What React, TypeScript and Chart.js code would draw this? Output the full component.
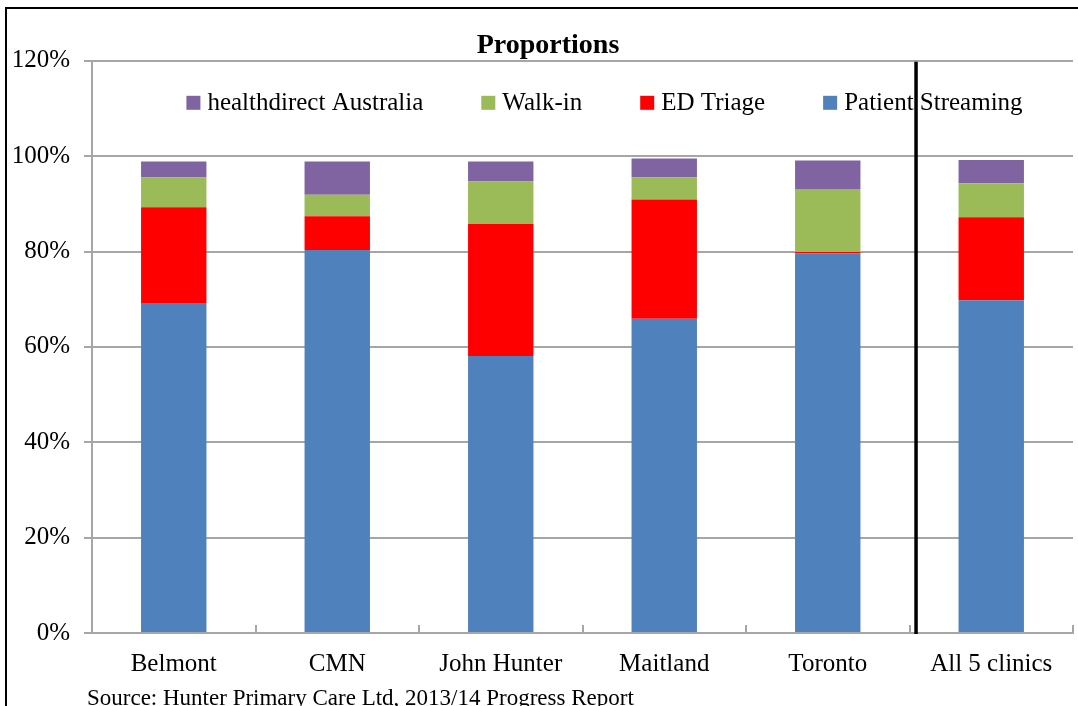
import React, { useEffect, useRef } from 'react';
import { Chart, registerables } from 'chart.js';

Chart.register(...registerables);

const CATEGORIES = ['Belmont', 'CMN', 'John Hunter', 'Maitland', 'Toronto', 'All 5 clinics'];
const PATIENT_STREAMING = [69.2, 80.3, 58.1, 65.9, 79.6, 69.8];
const ED_TRIAGE = [20.1, 7.1, 27.7, 25.0, 0.3, 17.4];
const WALK_IN = [6.2, 4.5, 8.9, 4.6, 13.2, 7.1];
const HEALTHDIRECT = [3.4, 7.0, 4.2, 4.0, 6.0, 4.9];
const SERIES_NAMES = ['Patient Streaming', 'ED Triage', 'Walk-in', 'healthdirect Australia'];
const Y_MIN = 0;
const Y_MAX = 120;
const Y_STEP = 20;
const SEPARATOR_AT = 4.54;
const TITLE = 'Proportions';
const SOURCE = 'Source: Hunter Primary Care Ltd, 2013/14 Progress Report';

const COLORS = ['#4F81BD', '#FF0000', '#9BBB59', '#8064A2'];
const GRID = '#a6a6a6';
const FONT = '"Liberation Serif", "Times New Roman", serif';

const decorPlugin = {
  id: 'decor',
  afterDraw(chart: any) {
    const { ctx, chartArea: a, scales } = chart;
    const x = scales.x;
    ctx.save();
    // inside tick marks on the category axis
    const n = chart.data.labels.length;
    ctx.strokeStyle = GRID;
    ctx.lineWidth = 2;
    for (let i = 0; i <= n; i++) {
      const px = Math.round(x.getPixelForValue(i - 0.5));
      ctx.beginPath();
      ctx.moveTo(px, a.bottom);
      ctx.lineTo(px, a.bottom - 8);
      ctx.stroke();
    }
    // legend inside plot area
    ctx.font = '25px ' + FONT;
    const items = [...chart.data.datasets].reverse();
    const box = 14;
    const gapText = 7;
    const gapItem = 58;
    const widths = items.map((d: any) => box + gapText + ctx.measureText(d.label).width);
    const total = widths.reduce((s: number, w: number) => s + w, 0) + gapItem * (items.length - 1);
    let cx = (a.left + a.right) / 2 + 22 - total / 2;
    const cy = a.top + 42;
    items.forEach((d: any, i: number) => {
      ctx.fillStyle = d.backgroundColor;
      ctx.fillRect(cx, cy - 7, box, box);
      ctx.fillStyle = '#000';
      ctx.textBaseline = 'middle';
      ctx.textAlign = 'left';
      ctx.fillText(d.label, cx + box + gapText, cy + 1);
      cx += widths[i] + gapItem;
    });
    // separator line
    const sx = x.getPixelForValue(SEPARATOR_AT);
    ctx.strokeStyle = '#000';
    ctx.lineWidth = 3.5;
    ctx.beginPath();
    ctx.moveTo(sx, a.top + 1);
    ctx.lineTo(sx, a.bottom + 1);
    ctx.stroke();
    ctx.restore();
  },
};

export default function App() {
  const ref = useRef<HTMLCanvasElement | null>(null);
  useEffect(() => {
    if (!ref.current) return;
    const series = [PATIENT_STREAMING, ED_TRIAGE, WALK_IN, HEALTHDIRECT];
    const chart = new Chart(ref.current, {
      type: 'bar',
      data: {
        labels: CATEGORIES,
        datasets: series.map((data, i) => ({
          label: SERIES_NAMES[i],
          data,
          backgroundColor: COLORS[i],
          borderWidth: 0,
          barPercentage: 0.4,
          categoryPercentage: 1,
          yAxisID: 'y',
        })),
      },
      options: {
        responsive: false,
        animation: false,
        devicePixelRatio: 1,
        layout: { padding: { left: 0, right: 0, top: 0, bottom: 19 } },
        plugins: {
          legend: { display: false },
          tooltip: { enabled: false },
          title: {
            display: true,
            text: TITLE,
            color: '#000',
            font: { family: FONT, size: 28, weight: 'bold', lineHeight: 1.1 },
            padding: { top: 30, bottom: 0 },
          },
        },
        scales: {
          x: {
            stacked: true,
            offset: true,
            grid: { display: false },
            border: { display: true, color: GRID, width: 2 },
            ticks: { color: '#000', font: { family: FONT, size: 25 }, padding: 8, maxRotation: 0 },
          },
          y: {
            stacked: true,
            min: Y_MIN,
            max: Y_MAX,
            afterFit: (scale: any) => {
              scale.width = 92;
            },
            grid: { color: GRID, lineWidth: 2, tickLength: 8, drawTicks: true },
            border: { display: true, color: GRID, width: 2 },
            ticks: {
              stepSize: Y_STEP,
              color: '#000',
              padding: 14,
              font: { family: FONT, size: 25 },
              callback: (v: any) => v + '%',
            },
          },
          yRight: {
            position: 'right',
            display: true,
            afterFit: (scale: any) => {
              scale.width = 23;
            },
            grid: { display: false, drawTicks: false },
            border: { display: false },
            ticks: { display: false },
          },
        },
      },
      plugins: [decorPlugin],
    });
    return () => chart.destroy();
  }, []);

  return (
    <div style={{ position: 'fixed', left: 0, top: 0, width: 1078, height: 706, overflow: 'hidden', background: '#fff' }}>
      <div style={{ position: 'absolute', left: 5, top: 7, width: 1200, height: 800, borderLeft: '2px solid #000', borderTop: '2px solid #000' }} />
      <canvas ref={ref} width={1096} height={706} style={{ position: 'absolute', left: 0, top: 0 }} />
      <div style={{ position: 'absolute', left: 87, top: 686, fontFamily: FONT, fontSize: 23, lineHeight: '23px', color: '#000', whiteSpace: 'nowrap' }}>{SOURCE}</div>
    </div>
  );
}
